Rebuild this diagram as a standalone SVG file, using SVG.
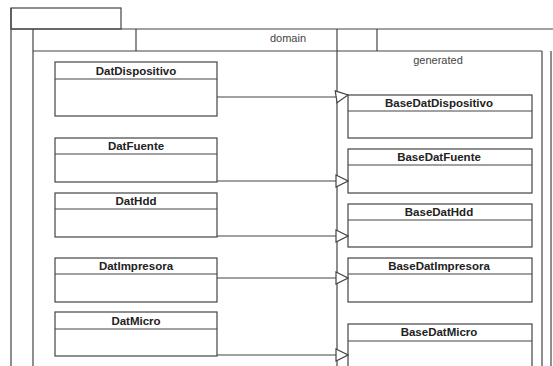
<svg xmlns="http://www.w3.org/2000/svg" width="553" height="366" viewBox="0 0 553 366">
<style>
.f{fill:none;stroke:#444;stroke-width:1.2}
.b{fill:#fff;stroke:#444;stroke-width:1.2}
.n{font-family:"Liberation Sans",Arial,sans-serif;font-size:11.5px;font-weight:bold;fill:#222;text-anchor:middle}
.p{font-family:"Liberation Sans",Arial,sans-serif;font-size:11px;fill:#444;text-anchor:middle}
.c{fill:none;stroke:#444;stroke-width:1.2}
</style>
<defs>
<marker id="tri" markerWidth="14" markerHeight="16" refX="13" refY="7" orient="auto" markerUnits="userSpaceOnUse">
<path d="M1,1 L13,7 L1,13 Z" fill="#fff" stroke="#444" stroke-width="1.2"/>
</marker>
</defs>
<rect width="553" height="366" fill="#fff"/>
<g id="packages">
<rect class="f" x="11" y="8" width="110" height="21"/>
<line class="f" x1="11" y1="29" x2="553" y2="29"/>
<line class="f" x1="11" y1="8" x2="11" y2="366"/>
<line class="f" x1="33" y1="29" x2="33" y2="366"/>
<line class="f" x1="33" y1="51" x2="542" y2="51"/>
<line class="f" x1="136" y1="29" x2="136" y2="51"/>
<line class="f" x1="337" y1="29" x2="337" y2="366"/>
<line class="f" x1="377" y1="29" x2="377" y2="51"/>
<line class="f" x1="542" y1="51" x2="542" y2="366"/>
<line class="f" x1="551" y1="51" x2="551" y2="366"/>
<text class="p" x="288" y="42">domain</text>
<text class="p" x="438" y="64">generated</text>
</g>
<g id="DatDispositivo"><rect class="b" x="55" y="62" width="162" height="54"/><line class="f" x1="55" y1="79" x2="217" y2="79"/><text class="n" x="136" y="75">DatDispositivo</text></g>
<g id="DatFuente"><rect class="b" x="55" y="138" width="162" height="44"/><line class="f" x1="55" y1="154" x2="217" y2="154"/><text class="n" x="136" y="150">DatFuente</text></g>
<g id="DatHdd"><rect class="b" x="55" y="193" width="162" height="44"/><line class="f" x1="55" y1="209" x2="217" y2="209"/><text class="n" x="136" y="205">DatHdd</text></g>
<g id="DatImpresora"><rect class="b" x="55" y="258" width="162" height="44"/><line class="f" x1="55" y1="274" x2="217" y2="274"/><text class="n" x="136" y="270">DatImpresora</text></g>
<g id="DatMicro"><rect class="b" x="55" y="312" width="162" height="44"/><line class="f" x1="55" y1="329" x2="217" y2="329"/><text class="n" x="136" y="325">DatMicro</text></g>
<g id="BaseDatDispositivo"><rect class="b" x="348" y="95" width="184" height="43"/><line class="f" x1="348" y1="111" x2="532" y2="111"/><text class="n" x="439" y="107">BaseDatDispositivo</text></g>
<g id="BaseDatFuente"><rect class="b" x="348" y="149" width="184" height="44"/><line class="f" x1="348" y1="165" x2="532" y2="165"/><text class="n" x="439" y="161">BaseDatFuente</text></g>
<g id="BaseDatHdd"><rect class="b" x="348" y="204" width="184" height="43"/><line class="f" x1="348" y1="220" x2="532" y2="220"/><text class="n" x="439" y="216">BaseDatHdd</text></g>
<g id="BaseDatImpresora"><rect class="b" x="348" y="258" width="184" height="44"/><line class="f" x1="348" y1="274" x2="532" y2="274"/><text class="n" x="439" y="270">BaseDatImpresora</text></g>
<g id="BaseDatMicro"><rect class="b" x="348" y="324" width="184" height="50"/><line class="f" x1="348" y1="341" x2="532" y2="341"/><text class="n" x="439" y="336">BaseDatMicro</text></g>
<g id="connectors">
<polyline class="c" points="217,97 335,97 348,95" marker-end="url(#tri)"/>
<line class="c" x1="217" y1="181" x2="348" y2="181" marker-end="url(#tri)"/>
<line class="c" x1="217" y1="236" x2="348" y2="236" marker-end="url(#tri)"/>
<line class="c" x1="217" y1="278" x2="348" y2="278" marker-end="url(#tri)"/>
<line class="c" x1="217" y1="355" x2="348" y2="355" marker-end="url(#tri)"/>
</g>
</svg>
